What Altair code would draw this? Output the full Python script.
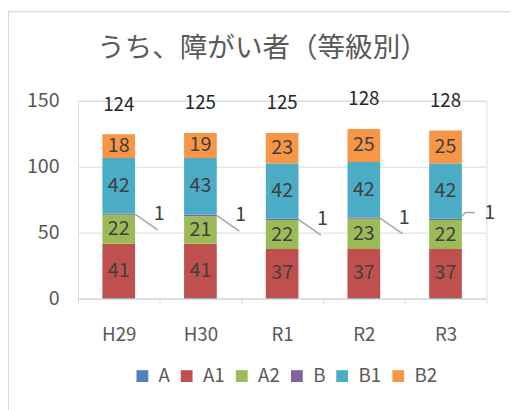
import altair as alt
import pandas as pd

categories = ["H29", "H30", "R1", "R2", "R3"]
series = ["A", "A1", "A2", "B", "B1", "B2"]
values_A = [0.5, 0.5, 0.5, 0.5, 0.5]
values_A1 = [41, 41, 37, 37, 37]
values_A2 = [22, 21, 22, 23, 22]
values_B = [1, 1, 1, 1, 1]
values_B1 = [42, 43, 42, 42, 42]
values_B2 = [18, 19, 23, 25, 25]
totals = [124, 125, 125, 128, 128]
colors = ["#4F81BD", "#C0504D", "#9BBB59", "#8064A2", "#4BACC6", "#F79646"]

series_values = [values_A, values_A1, values_A2, values_B, values_B1, values_B2]

rows = []
tot_rows = []
for ci, cat in enumerate(categories):
    base = 0.0
    for si, s in enumerate(series):
        v = series_values[si][ci]
        rows.append({"cat": cat, "series": s, "order": si, "value": v,
                     "y0": base, "y1": base + v, "mid": base + v / 2})
        base += v
    tot_rows.append({"cat": cat, "top": base, "label": str(totals[ci])})

df = pd.DataFrame(rows)
tdf = pd.DataFrame(tot_rows)

FONT = "Noto Sans CJK JP"

x_enc = alt.X("cat:N", sort=categories, title=None,
              scale=alt.Scale(paddingInner=0, paddingOuter=0),
              axis=alt.Axis(labelAngle=0, tickBand="extent", grid=False,
                            domainColor="#D9D9D9", tickColor="#D9D9D9", tickSize=5,
                            labelPadding=23, labelFontSize=19, labelColor="#595959",
                            labelFont=FONT))
y_enc = alt.Y("y1:Q", title=None, scale=alt.Scale(domain=[0, 150], nice=False),
              axis=alt.Axis(values=[0, 50, 100, 150], domain=False, ticks=False,
                            gridColor="#D9D9D9", labelPadding=19, labelFontSize=20,
                            labelColor="#595959", labelFont=FONT))

frame = alt.Chart(pd.DataFrame({"k": [0]})).mark_rect(
    fillOpacity=0, stroke="#D9D9D9", strokeWidth=1.2
).encode(x=alt.value(-70.5), x2=alt.value(480), y=alt.value(-90.5), y2=alt.value(330))

bars = alt.Chart(df).mark_bar(width={"band": 0.4}).encode(
    x=x_enc,
    y=y_enc,
    y2="y0:Q",
    color=alt.Color("series:N", scale=alt.Scale(domain=series, range=colors),
                    legend=alt.Legend(title=None, orient="none", direction="horizontal",
                                      legendX=56, legendY=270, symbolType="square",
                                      symbolSize=144, symbolStrokeWidth=0,
                                      columnPadding=7, labelOffset=7,
                                      labelFontSize=19, labelColor="#595959",
                                      labelFont=FONT)),
    order="order:Q",
)

seg_labels = alt.Chart(df).transform_filter(
    "datum.series != 'A' && datum.series != 'B'"
).mark_text(fontSize=20, color="#404040", font=FONT, baseline="middle").encode(
    x=alt.X("cat:N", sort=categories),
    y=alt.Y("mid:Q"),
    text="value:Q",
)

bdf = df[df["series"] == "B"]

lead = alt.Chart(bdf).transform_filter("datum.cat != 'R3'").mark_rule(
    color="#A6A6A6", strokeWidth=1.5, xOffset=16.5, x2Offset=39.5, y2Offset=16
).encode(
    x=alt.X("cat:N", sort=categories, bandPosition=0.5),
    x2=alt.X2("cat", bandPosition=0.5),
    y="mid:Q",
    y2="mid:Q",
)
lead_r3a = alt.Chart(bdf).transform_filter("datum.cat == 'R3'").mark_rule(
    color="#A6A6A6", strokeWidth=1.5, xOffset=16.5, x2Offset=20, yOffset=-3, y2Offset=-7
).encode(
    x=alt.X("cat:N", sort=categories, bandPosition=0.5),
    x2=alt.X2("cat", bandPosition=0.5),
    y="mid:Q",
    y2="mid:Q",
)
lead_r3b = alt.Chart(bdf).transform_filter("datum.cat == 'R3'").mark_rule(
    color="#A6A6A6", strokeWidth=1.5, xOffset=20, x2Offset=30, yOffset=-7, y2Offset=-7
).encode(
    x=alt.X("cat:N", sort=categories, bandPosition=0.5),
    x2=alt.X2("cat", bandPosition=0.5),
    y="mid:Q",
    y2="mid:Q",
)

b_text = alt.Chart(bdf).transform_filter("datum.cat != 'R3'").mark_text(
    fontSize=20, color="#404040", font=FONT, dx=41, dy=0, baseline="middle"
).encode(x=alt.X("cat:N", sort=categories), y="mid:Q", text="value:Q")
b_text_r3 = alt.Chart(bdf).transform_filter("datum.cat == 'R3'").mark_text(
    fontSize=20, color="#404040", font=FONT, dx=45, dy=-6, baseline="middle"
).encode(x=alt.X("cat:N", sort=categories), y="mid:Q", text="value:Q")

tot_text = alt.Chart(tdf).mark_text(
    fontSize=19, color="#262626", font=FONT, dy=-30, baseline="middle"
).encode(x=alt.X("cat:N", sort=categories), y="top:Q", text="label:N")

chart = alt.layer(
    frame, bars, seg_labels, lead, lead_r3a, lead_r3b, b_text, b_text_r3, tot_text
).properties(
    width=415, height=201,
    title=alt.TitleParams("うち、障がい者（等級別）", fontSize=28, font=FONT,
                          fontWeight="normal", color="#595959", anchor="middle",
                          dx=-20, offset=-53),
    autosize=alt.AutoSizeParams(type="none"),
    padding={"left": 71, "top": 91, "right": 24, "bottom": 110},
).configure_view(stroke=None).configure(background="white")

chart.save("out.html", embed_options={"renderer": "svg", "actions": False})
